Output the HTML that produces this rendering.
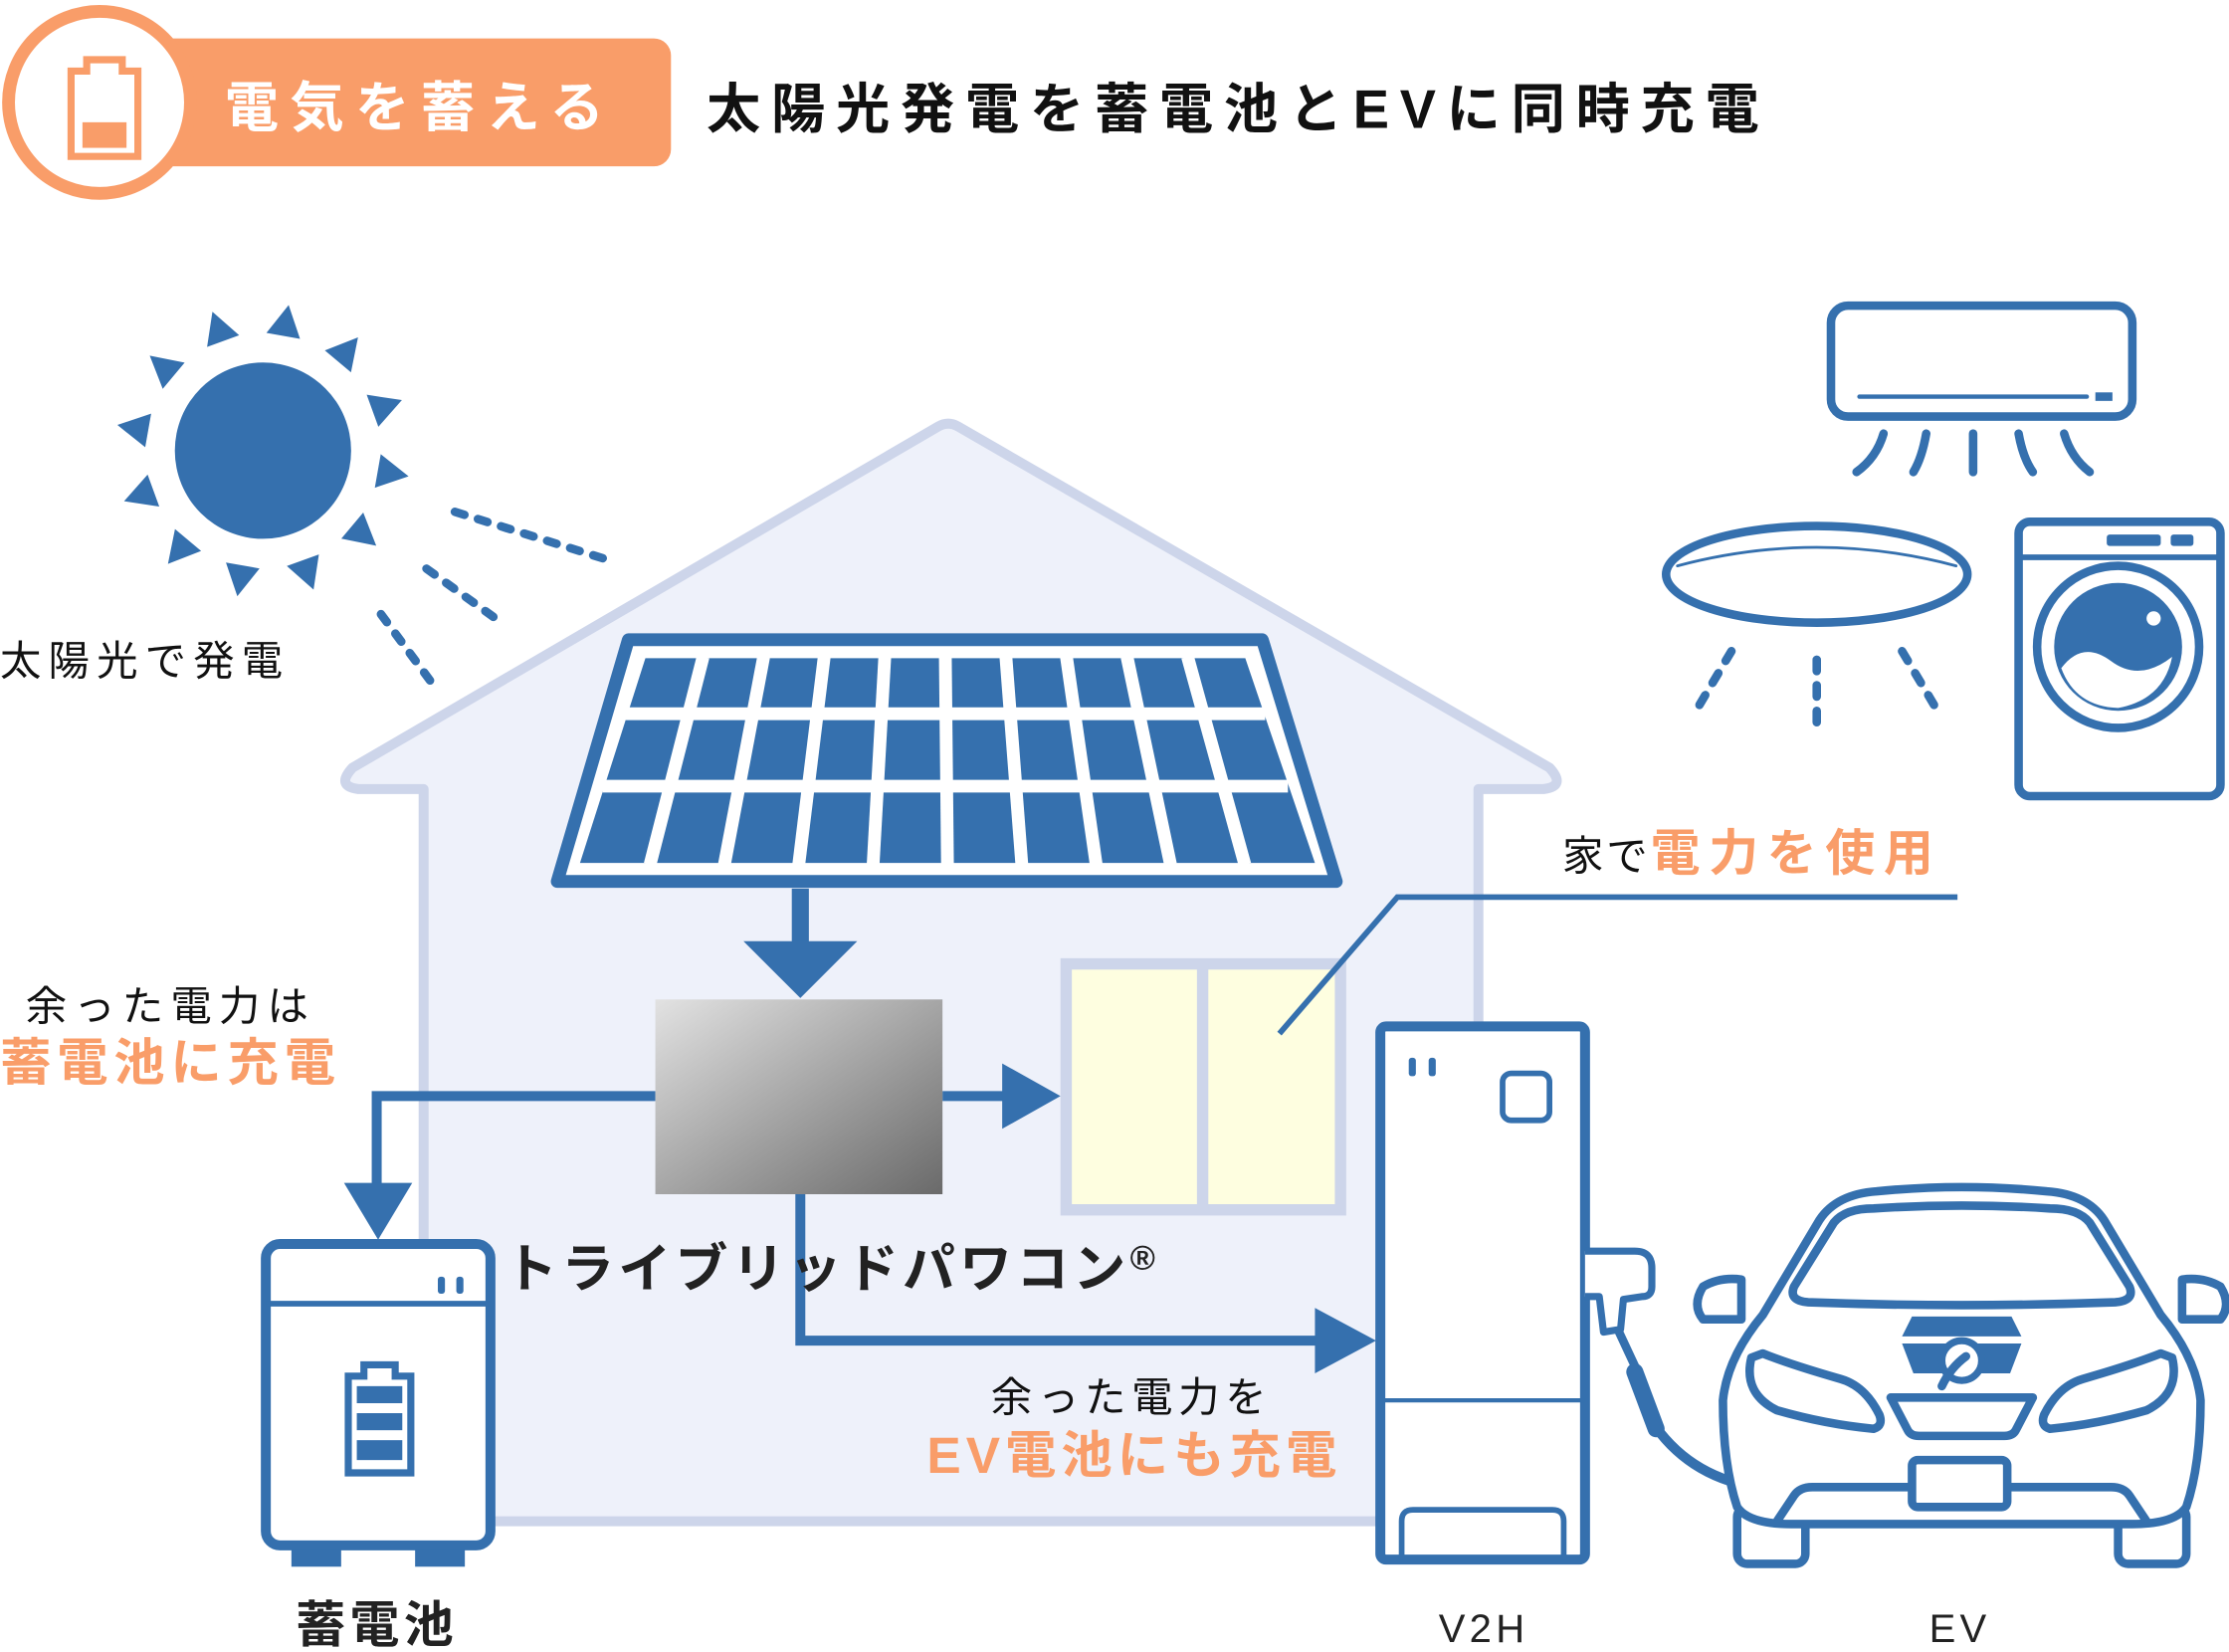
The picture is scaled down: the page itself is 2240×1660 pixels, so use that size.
<!DOCTYPE html>
<html><head><meta charset="utf-8"><style>
html,body{margin:0;padding:0;background:#fff;}
svg{display:block;}
text{font-family:"Liberation Sans","Noto Sans CJK JP",sans-serif;}
</style></head><body>
<svg width="2240" height="1660" viewBox="0 0 1568 1162" xmlns="http://www.w3.org/2000/svg">
<defs>
<linearGradient id="g" x1="0" y1="0" x2="1" y2="1"><stop offset="0" stop-color="#e2e2e2"/><stop offset="1" stop-color="#6a6a6a"/></linearGradient>
</defs>
<!-- header -->
<rect x="110" y="27" width="362" height="90" rx="12" fill="#f99d69"/>
<circle cx="70" cy="72" r="64" fill="#fff" stroke="#f99d69" stroke-width="9"/>
<path d="M50 50 H61 V42 H86 V50 H97 V110 H50 Z" fill="none" stroke="#f99d69" stroke-width="5"/>
<rect x="58" y="86" width="31" height="18" fill="#f99d69"/>
<text x="158" y="89" font-size="38" font-weight="bold" fill="#fff" letter-spacing="8">電気を蓄える</text>
<text x="497" y="90" font-size="38" font-weight="bold" fill="#111" letter-spacing="7.5">太陽光発電を蓄電池とEVに同時充電</text>

<!-- sun -->
<circle cx="185" cy="317" r="62" fill="#3570ae"/>
<g fill="#3570ae">
<g transform="translate(185,317)">
<polygon points="-12,-82 12,-82 0,-104" transform="rotate(10)"/>
<polygon points="-12,-82 12,-82 0,-104" transform="rotate(40)"/>
<polygon points="-12,-82 12,-82 0,-104" transform="rotate(70)"/>
<polygon points="-12,-82 12,-82 0,-104" transform="rotate(100)"/>
<polygon points="-12,-82 12,-82 0,-104" transform="rotate(130)"/>
<polygon points="-12,-82 12,-82 0,-104" transform="rotate(160)"/>
<polygon points="-12,-82 12,-82 0,-104" transform="rotate(190)"/>
<polygon points="-12,-82 12,-82 0,-104" transform="rotate(220)"/>
<polygon points="-12,-82 12,-82 0,-104" transform="rotate(250)"/>
<polygon points="-12,-82 12,-82 0,-104" transform="rotate(280)"/>
<polygon points="-12,-82 12,-82 0,-104" transform="rotate(310)"/>
<polygon points="-12,-82 12,-82 0,-104" transform="rotate(340)"/>
</g></g>
<g stroke="#3570ae" stroke-width="6" stroke-dasharray="7 10" stroke-linecap="round">
<line x1="320" y1="360" x2="425" y2="393"/>
<line x1="300" y1="400" x2="350" y2="436"/>
<line x1="268" y1="432" x2="305" y2="482"/>
</g>
<text x="0" y="475" font-size="29" fill="#111" letter-spacing="5">太陽光で発電</text>

<!-- house -->
<path d="M248 540 L660 300 Q667 296 674 300 L1090 540 Q1102 553 1086 555 L1040 555 L1040 1070 L298 1070 L298 555 L252 555 Q236 553 248 540 Z" fill="#eef1fa" stroke="#cdd5ea" stroke-width="7" stroke-linejoin="round"/>

<!-- solar panel -->
<polygon points="442,450 888,450 940,620 392,620" fill="#fff" stroke="#3570ae" stroke-width="9" stroke-linejoin="round"/>
<polygon points="454,463 876,463 925,607 408,607" fill="#3570ae"/>
<g stroke="#fff" stroke-width="9">
<line x1="440" y1="502" x2="890" y2="502"/>
<line x1="424" y1="553" x2="906" y2="553"/>
<line x1="494.6" y1="462" x2="457.3" y2="608"/>
<line x1="537.2" y1="462" x2="509.6" y2="608"/>
<line x1="579.8" y1="462" x2="561.9" y2="608"/>
<line x1="622.4" y1="462" x2="614.2" y2="608"/>
<line x1="665" y1="462" x2="666.5" y2="608"/>
<line x1="707.6" y1="462" x2="718.8" y2="608"/>
<line x1="750.2" y1="462" x2="771.1" y2="608"/>
<line x1="792.8" y1="462" x2="823.4" y2="608"/>
<line x1="835.4" y1="462" x2="875.7" y2="608"/>
</g>

<!-- flows -->
<rect x="557" y="625" width="12" height="40" fill="#3570ae"/>
<polygon points="523,662 603,662 563,702" fill="#3570ae"/>
<g fill="none" stroke="#3570ae" stroke-width="7">
<path d="M663 771 H710"/>
<path d="M461 771 H265 V835"/>
<path d="M563 836 V943 H930"/>
</g>
<polygon points="705,748 705,794 746,771" fill="#3570ae"/>
<polygon points="242,832 290,832 266,872" fill="#3570ae"/>
<polygon points="925,920 925,966 968,943" fill="#3570ae"/>

<rect x="461" y="703" width="202" height="137" fill="url(#g)"/>

<!-- window -->
<rect x="750" y="678" width="193" height="173" fill="#fefee0" stroke="#cdd5ea" stroke-width="8"/>
<line x1="846" y1="678" x2="846" y2="851" stroke="#cdd5ea" stroke-width="8"/>
<path d="M900 727 L983 631 H1377" fill="none" stroke="#3570ae" stroke-width="4"/>

<!-- labels -->
<text x="1099" y="612" font-size="29" fill="#111" letter-spacing="2">家で<tspan font-size="35" font-weight="bold" fill="#f99d69" letter-spacing="6">電力を使用</tspan></text>
<text x="18" y="718" font-size="29" fill="#111" letter-spacing="5">余った電力は</text>
<text x="0" y="760" font-size="36" font-weight="bold" fill="#f99d69" letter-spacing="4">蓄電池に充電</text>
<text x="355" y="905" font-size="37" font-weight="bold" fill="#222" letter-spacing="3">トライブリッドパワコン<tspan font-size="24" dy="-12">®</tspan></text>
<text x="697" y="993" font-size="29" fill="#111" letter-spacing="4">余った電力を</text>
<text x="652" y="1036" font-size="36" font-weight="bold" fill="#f99d69" letter-spacing="3.5">EV電池にも充電</text>
<text x="208" y="1155" font-size="35" font-weight="bold" fill="#222" letter-spacing="3">蓄電池</text>
<text x="1012" y="1155" font-size="28" fill="#222" letter-spacing="3">V2H</text>
<text x="1357" y="1155" font-size="28" fill="#222" letter-spacing="3">EV</text>

<!-- battery -->
<rect x="205" y="1084" width="35" height="18" fill="#3570ae"/>
<rect x="292" y="1084" width="35" height="18" fill="#3570ae"/>
<rect x="187" y="875" width="158" height="212" rx="10" fill="#fff" stroke="#3570ae" stroke-width="7"/>
<line x1="187" y1="917" x2="345" y2="917" stroke="#3570ae" stroke-width="4"/>
<rect x="308" y="898" width="5" height="12" rx="2" fill="#3570ae"/>
<rect x="321" y="898" width="5" height="12" rx="2" fill="#3570ae"/>
<path d="M245 968 H256 V960 H278 V968 H289 V1036 H245 Z" fill="none" stroke="#3570ae" stroke-width="5"/>
<rect x="251" y="975" width="32" height="12" fill="#3570ae"/>
<rect x="251" y="994" width="32" height="12" fill="#3570ae"/>
<rect x="251" y="1013" width="32" height="14" fill="#3570ae"/>

<!-- V2H -->
<rect x="971" y="722" width="144" height="375" rx="4" fill="#fff" stroke="#3570ae" stroke-width="7"/>
<rect x="1057" y="755" width="33" height="33" rx="6" fill="none" stroke="#3570ae" stroke-width="4"/>
<rect x="991" y="744" width="5" height="13" rx="2" fill="#3570ae"/>
<rect x="1005" y="744" width="5" height="13" rx="2" fill="#3570ae"/>
<line x1="971" y1="985" x2="1115" y2="985" stroke="#3570ae" stroke-width="3"/>
<path d="M986 1097 V1070 Q986 1062 994 1062 H1092 Q1100 1062 1100 1070 V1097" fill="none" stroke="#3570ae" stroke-width="4"/>

<!-- connector & cable -->
<path d="M1115 880 H1150 Q1162 880 1162 892 V905 Q1162 912 1155 912 L1142 914 L1140 935 L1128 937 L1125 912 H1115" fill="#fff" stroke="#3570ae" stroke-width="5" stroke-linejoin="round"/>
<path d="M1138 935 L1152 965" stroke="#3570ae" stroke-width="6" fill="none"/>
<path d="M1150 965 L1165 1005" stroke="#3570ae" stroke-width="12" stroke-linecap="round" fill="none"/>
<path d="M1168 1008 Q1200 1048 1260 1048 Q1320 1046 1345 1010 Q1362 985 1378 962" stroke="#3570ae" stroke-width="7" fill="none"/>

<!-- EV -->
<g fill="none" stroke="#3570ae" stroke-width="6" stroke-linejoin="round">
<rect x="1222" y="1060" width="48" height="40" rx="7" fill="#fff"/>
<rect x="1490" y="1060" width="48" height="40" rx="7" fill="#fff"/>
<path d="M1240 925 Q1215 955 1212 985 Q1212 1030 1222 1060 Q1230 1072 1260 1072 H1500 Q1530 1072 1538 1060 Q1548 1030 1548 985 Q1545 955 1520 925 L1480 858 Q1468 840 1440 838 Q1380 832 1320 838 Q1292 840 1280 858 Z" fill="#fff"/>
<path d="M1262 905 L1290 860 Q1298 850 1318 850 Q1380 846 1442 850 Q1462 850 1470 860 L1498 905 Q1502 915 1488 916 Q1380 920 1272 916 Q1258 915 1262 905 Z"/>
<path d="M1225 928 L1198 928 Q1190 918 1198 905 Q1210 898 1225 900 Z"/>
<path d="M1535 928 L1562 928 Q1570 918 1562 905 Q1550 898 1535 900 Z"/>
<path d="M1232 955 Q1226 980 1250 992 Q1285 1002 1318 1005 Q1325 1003 1322 995 Q1312 975 1295 970 Q1260 960 1240 952 Z"/>
<path d="M1528 955 Q1534 980 1510 992 Q1475 1002 1442 1005 Q1435 1003 1438 995 Q1448 975 1465 970 Q1500 960 1520 952 Z"/>
<path d="M1250 1070 L1262 1052 Q1266 1046 1275 1046 H1485 Q1494 1046 1498 1052 L1510 1070"/>
<rect x="1345" y="1027" width="67" height="33" rx="4" fill="#fff"/>
<path d="M1330 983 H1430 L1418 1006 Q1416 1010 1410 1010 H1350 Q1344 1010 1342 1006 Z"/>
</g>
<path d="M1345 926 H1415 L1422 940 H1338 Z M1338 945 H1422 L1414 966 H1346 Z" fill="#3570ae"/>
<circle cx="1380" cy="957" r="14" fill="#fff" stroke="#3570ae" stroke-width="5"/>
<path d="M1383 954 Q1372 962 1366 975" stroke="#3570ae" stroke-width="6" stroke-linecap="round" fill="none"/>

<!-- aircon -->
<g fill="none" stroke="#3570ae" stroke-width="6" stroke-linecap="round">
<rect x="1288" y="215" width="212" height="78" rx="12"/>
<line x1="1308" y1="279" x2="1468" y2="279" stroke-width="3"/>
<path d="M1325 305 Q1320 322 1306 332"/>
<path d="M1355 305 Q1352 322 1346 332"/>
<line x1="1388" y1="305" x2="1388" y2="332"/>
<path d="M1420 305 Q1423 322 1430 332"/>
<path d="M1452 305 Q1457 322 1470 332"/>
</g>
<rect x="1474" y="276" width="12" height="6" fill="#3570ae"/>
<!-- light -->
<g fill="none" stroke="#3570ae" stroke-width="6" stroke-linecap="round">
<ellipse cx="1278" cy="404" rx="106" ry="34"/>
<path d="M1180 398 Q1278 372 1376 398" stroke-width="2"/>
</g>
<g stroke="#3570ae" stroke-width="6" stroke-dasharray="8 10" stroke-linecap="round">
<line x1="1218" y1="458" x2="1193" y2="500"/>
<line x1="1278" y1="464" x2="1278" y2="512"/>
<line x1="1338" y1="458" x2="1363" y2="500"/>
</g>
<!-- washer -->
<rect x="1420" y="367" width="142" height="193" rx="8" fill="#fff" stroke="#3570ae" stroke-width="6"/>
<line x1="1420" y1="392" x2="1562" y2="392" stroke="#3570ae" stroke-width="4"/>
<rect x="1482" y="376" width="38" height="8" rx="2" fill="#3570ae"/>
<rect x="1527" y="376" width="16" height="8" rx="2" fill="#3570ae"/>
<circle cx="1490" cy="455" r="57" fill="#fff" stroke="#3570ae" stroke-width="6"/>
<circle cx="1490" cy="455" r="45" fill="#3570ae"/>
<path d="M1450 470 Q1465 450 1485 465 Q1505 480 1528 462 Q1522 492 1490 498 Q1460 497 1450 470 Z" fill="#fff"/>
<circle cx="1515" cy="435" r="5" fill="#fff"/>
</svg>
</body></html>
